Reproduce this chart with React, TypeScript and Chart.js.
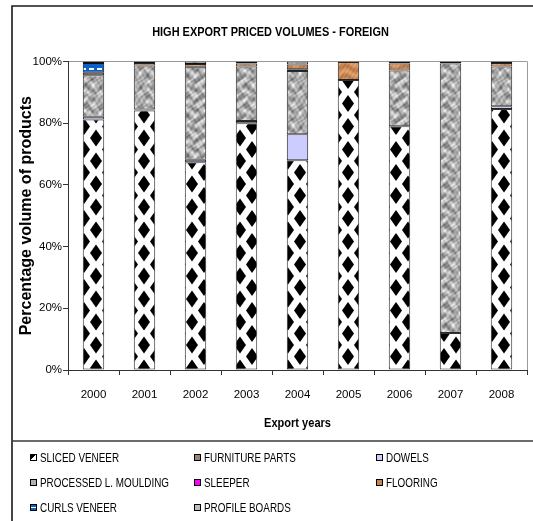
import React, { useEffect, useRef } from "react";
import { Chart, registerables } from "chart.js";

Chart.register(...registerables);

const TITLE = "HIGH EXPORT PRICED VOLUMES - FOREIGN";
const X_TITLE = "Export years";
const Y_TITLE = "Percentage volume of products";

const years = ["2000", "2001", "2002", "2003", "2004", "2005", "2006", "2007", "2008"];
const seriesNames = [
  "SLICED VENEER",
  "FURNITURE PARTS",
  "DOWELS",
  "PROCESSED L. MOULDING",
  "SLEEPER",
  "FLOORING",
  "CURLS VENEER",
  "PROFILE BOARDS",
];
const slicedVeneer = [81.2, 84.1, 67.3, 80.0, 68.0, 94.0, 79.0, 12.0, 84.6];
const furnitureParts = [0, 0, 0, 0, 0, 0, 0, 0, 0];
const dowels = [0.9, 0.3, 0.8, 0.7, 8.4, 0, 0, 0, 0.9];
const processedLMoulding = [13.4, 14.3, 30.2, 17.7, 20.5, 0, 18.1, 87.3, 12.9];
const sleeper = [0, 0, 0, 0, 0.6, 0, 0, 0, 0];
const flooring = [0.8, 0.8, 0.9, 0.9, 1.5, 5.8, 2.2, 0, 1.1];
const curlsVeneer = [3.2, 0, 0, 0, 0, 0, 0, 0, 0];
const profileBoards = [0.5, 0.5, 0.8, 0.7, 1.0, 0.2, 0.7, 0.7, 0.5];
const yTicks = [0, 20, 40, 60, 80, 100];

const FONT = "'Liberation Sans', Arial, sans-serif";

function tile(w: number, h: number, draw: (g: CanvasRenderingContext2D) => void) {
  const c = document.createElement("canvas");
  c.width = w;
  c.height = h;
  const g = c.getContext("2d")!;
  draw(g);
  return c;
}

function diamondPattern(ctx: CanvasRenderingContext2D) {
  const W = 24, H = 23, hw = 6, hh = 8.5;
  const t = tile(W, H, (g) => {
    g.fillStyle = "#fff";
    g.fillRect(0, 0, W, H);
    g.fillStyle = "#000";
    const centers = [[0, 0], [W, 0], [0, H], [W, H], [W / 2, H / 2]];
    for (const [cx, cy] of centers) {
      g.beginPath();
      g.moveTo(cx, cy - hh);
      g.lineTo(cx + hw, cy);
      g.lineTo(cx, cy + hh);
      g.lineTo(cx - hw, cy);
      g.closePath();
      g.fill();
    }
  });
  return ctx.createPattern(t, "repeat")!;
}

function marblePattern(ctx: CanvasRenderingContext2D, base: number, amp: number) {
  const N = 40;
  const k = (2 * Math.PI) / N;
  const t = tile(N, N, (g) => {
    const img = g.createImageData(N, N);
    for (let y = 0; y < N; y++) {
      for (let x = 0; x < N; x++) {
        const v =
          Math.sin(3 * k * x + 2.2 * Math.sin(2 * k * y)) +
          Math.sin(4 * k * y + 1.8 * Math.sin(2 * k * x)) +
          0.6 * Math.sin(7 * k * (x + y) + 1.3 * Math.sin(3 * k * y)) +
          0.4 * Math.sin(9 * k * x - 5 * k * y);
        const c = Math.max(0, Math.min(255, base + (amp * v) / 2.5));
        const i = (y * N + x) * 4;
        img.data[i] = c;
        img.data[i + 1] = c;
        img.data[i + 2] = c;
        img.data[i + 3] = 255;
      }
    }
    g.putImageData(img, 0, 0);
  });
  return ctx.createPattern(t, "repeat")!;
}

function woodPattern(ctx: CanvasRenderingContext2D) {
  const N = 20;
  const k = (2 * Math.PI) / N;
  const t = tile(N, N, (g) => {
    const img = g.createImageData(N, N);
    for (let y = 0; y < N; y++) {
      for (let x = 0; x < N; x++) {
        const v = Math.sin(2 * k * y + 1.5 * Math.sin(k * x)) + 0.5 * Math.sin(5 * k * x + 3 * k * y);
        const i = (y * N + x) * 4;
        img.data[i] = 205 + 20 * v;
        img.data[i + 1] = 140 + 18 * v;
        img.data[i + 2] = 90 + 14 * v;
        img.data[i + 3] = 255;
      }
    }
    g.putImageData(img, 0, 0);
  });
  return ctx.createPattern(t, "repeat")!;
}

function dashPattern(ctx: CanvasRenderingContext2D) {
  const t = tile(8, 6, (g) => {
    g.fillStyle = "#0a62c6";
    g.fillRect(0, 0, 8, 6);
    g.fillStyle = "#ffffff";
    g.fillRect(1, 2, 5, 2);
  });
  return ctx.createPattern(t, "repeat")!;
}

// Draw a text-drawing step horizontally condensed around a centre x (narrow font look).
function condensed(ctx: CanvasRenderingContext2D, cx: number, sx: number, fn: () => void) {
  ctx.save();
  ctx.translate(cx, 0);
  ctx.scale(sx, 1);
  ctx.translate(-cx, 0);
  fn();
  ctx.restore();
}

const narrowTextPlugin = {
  id: "narrowText",
  afterLayout(chart: any) {
    const tb = chart.titleBlock;
    if (tb && !tb.__wrapped) {
      const orig = tb.draw.bind(tb);
      tb.draw = (...args: any[]) =>
        condensed(chart.ctx, (tb.left + tb.right) / 2, 0.8, () => orig(...args));
      tb.__wrapped = true;
    }
    const xs = chart.scales.x;
    if (xs && !xs.__wrapped) {
      const origT = xs.drawTitle.bind(xs);
      xs.drawTitle = (...args: any[]) =>
        condensed(chart.ctx, (xs.left + xs.right) / 2, 0.85, () => origT(...args));
      xs.__wrapped = true;
    }
  },
};

const framePlugin = {
  id: "frame",
  beforeDraw(chart: any) {
    const { ctx } = chart;
    ctx.save();
    ctx.fillStyle = "#fff";
    ctx.fillRect(0, 0, chart.width, chart.height);
    ctx.strokeStyle = "#1a1a1a";
    ctx.lineWidth = 1.6;
    ctx.beginPath();
    ctx.moveTo(12, 540);
    ctx.lineTo(12, 6);
    ctx.lineTo(540, 6);
    ctx.stroke();
    ctx.strokeStyle = "#3a3a3a";
    ctx.lineWidth = 1.3;
    ctx.beginPath();
    ctx.moveTo(12, 441);
    ctx.lineTo(540, 441);
    ctx.stroke();
    ctx.restore();
  },
  afterDraw(chart: any) {
    const { ctx, chartArea } = chart;
    ctx.save();
    ctx.strokeStyle = "#9a9a9a";
    ctx.lineWidth = 1;
    ctx.beginPath();
    ctx.moveTo(chartArea.right + 0.5, chartArea.top);
    ctx.lineTo(chartArea.right + 0.5, chartArea.bottom);
    ctx.stroke();
    ctx.restore();
  },
};

const swatchStyles: React.CSSProperties[] = [
  { background: "linear-gradient(135deg, #000 50%, #fff 50%)" },
  { background: "#9c8270" },
  { background: "#ccccff" },
  { background: "#b0b0b0" },
  { background: "#ff00ff" },
  { background: "#c3864f" },
  { background: "linear-gradient(180deg, #0a62c6 40%, #fff 40%, #fff 60%, #0a62c6 60%)" },
  { background: "#bdbdbd" },
];

export default function App() {
  const ref = useRef<HTMLCanvasElement | null>(null);

  useEffect(() => {
    const canvas = ref.current!;
    const ctx = canvas.getContext("2d")!;
    const sliced = diamondPattern(ctx);
    const marble = marblePattern(ctx, 172, 64);
    const marble2 = marblePattern(ctx, 165, 55);
    const wood = woodPattern(ctx);
    const dash = dashPattern(ctx);
    const values = [
      slicedVeneer,
      furnitureParts,
      dowels,
      processedLMoulding,
      sleeper,
      flooring,
      curlsVeneer,
      profileBoards,
    ];
    const fills: any[] = [sliced, "#9c8270", "#ccccff", marble, "#ff00ff", wood, dash, marble2];
    const borders = ["#333", "#222", "#222", "#2a2a2a", "#222", "#222", "#111", "#111"];
    const datasets = values.map((d, i) => ({
      label: seriesNames[i],
      data: d,
      backgroundColor: fills[i],
      borderColor: borders[i],
      borderWidth: 1,
      borderSkipped: false as const,
      categoryPercentage: 1,
      barPercentage: 0.42,
    }));

    const tickFont = { family: FONT, size: 11.5 };
    const chart = new Chart(canvas, {
      type: "bar",
      data: { labels: years, datasets },
      options: {
        animation: false,
        responsive: false,
        devicePixelRatio: 1,
        layout: { padding: { left: 14, right: 6, top: 6, bottom: 90 } },
        plugins: {
          legend: { display: false },
          tooltip: { enabled: false },
          title: {
            display: true,
            text: TITLE,
            color: "#000",
            font: { family: FONT, size: 13.7, weight: "bold" },
            padding: { top: 18, bottom: 21 },
          },
        },
        scales: {
          x: {
            stacked: true,
            grid: { offset: true, drawOnChartArea: false, drawTicks: true, tickLength: 5, tickColor: "#333" },
            border: { color: "#333", width: 1 },
            ticks: { color: "#000", font: tickFont, padding: 13, maxRotation: 0, autoSkip: false },
            title: {
              display: true,
              text: X_TITLE,
              color: "#000",
              font: { family: FONT, size: 13, weight: "bold" },
              padding: { top: 0, bottom: 0 },
            },
            afterFit: (s: any) => {
              s.height = 61;
            },
          },
          y: {
            stacked: true,
            min: 0,
            max: 100,
            afterBuildTicks: (s: any) => {
              s.ticks = yTicks.map((v) => ({ value: v }));
            },
            ticks: {
              color: "#000",
              font: tickFont,
              padding: 1,
              callback: (v: any) => v + "%",
            },
            grid: {
              color: (c: any) => (c.tick && c.tick.value === 100 ? "#9a9a9a" : "rgba(0,0,0,0)"),
              tickColor: "#333",
              tickLength: 5,
            },
            border: { color: "#333", width: 1 },
            title: {
              display: true,
              text: Y_TITLE,
              color: "#000",
              font: { family: FONT, size: 16, weight: "bold" },
              padding: { top: 3, bottom: 0 },
            },
            afterFit: (s: any) => {
              s.width = 54;
            },
          },
        },
      },
      plugins: [narrowTextPlugin, framePlugin],
    });
    return () => chart.destroy();
  }, []);

  const colLeft = [30, 194, 376];
  const rowCenter = [457, 482, 507];

  return (
    <div style={{ position: "absolute", left: 0, top: 0, width: 533, height: 521, overflow: "hidden", background: "#fff" }}>
      <canvas ref={ref} width={533} height={521} style={{ position: "absolute", left: 0, top: 0, width: 533, height: 521 }} />
      {seriesNames.map((name, i) => {
        const r = Math.floor(i / 3);
        const c = i % 3;
        return (
          <div
            key={name}
            style={{
              position: "absolute",
              left: colLeft[c],
              top: rowCenter[r] - 8,
              height: 16,
              display: "flex",
              alignItems: "center",
              fontFamily: FONT,
              fontSize: 13,
              color: "#000",
              whiteSpace: "nowrap",
            }}
          >
            <span
              style={{
                display: "inline-block",
                width: 5,
                height: 5,
                border: "1px solid #000",
                marginRight: 3,
                flex: "none",
                ...swatchStyles[i],
              }}
            />
            <span style={{ display: "inline-block", transform: "scaleX(0.76)", transformOrigin: "0 50%" }}>{name}</span>
          </div>
        );
      })}
    </div>
  );
}
